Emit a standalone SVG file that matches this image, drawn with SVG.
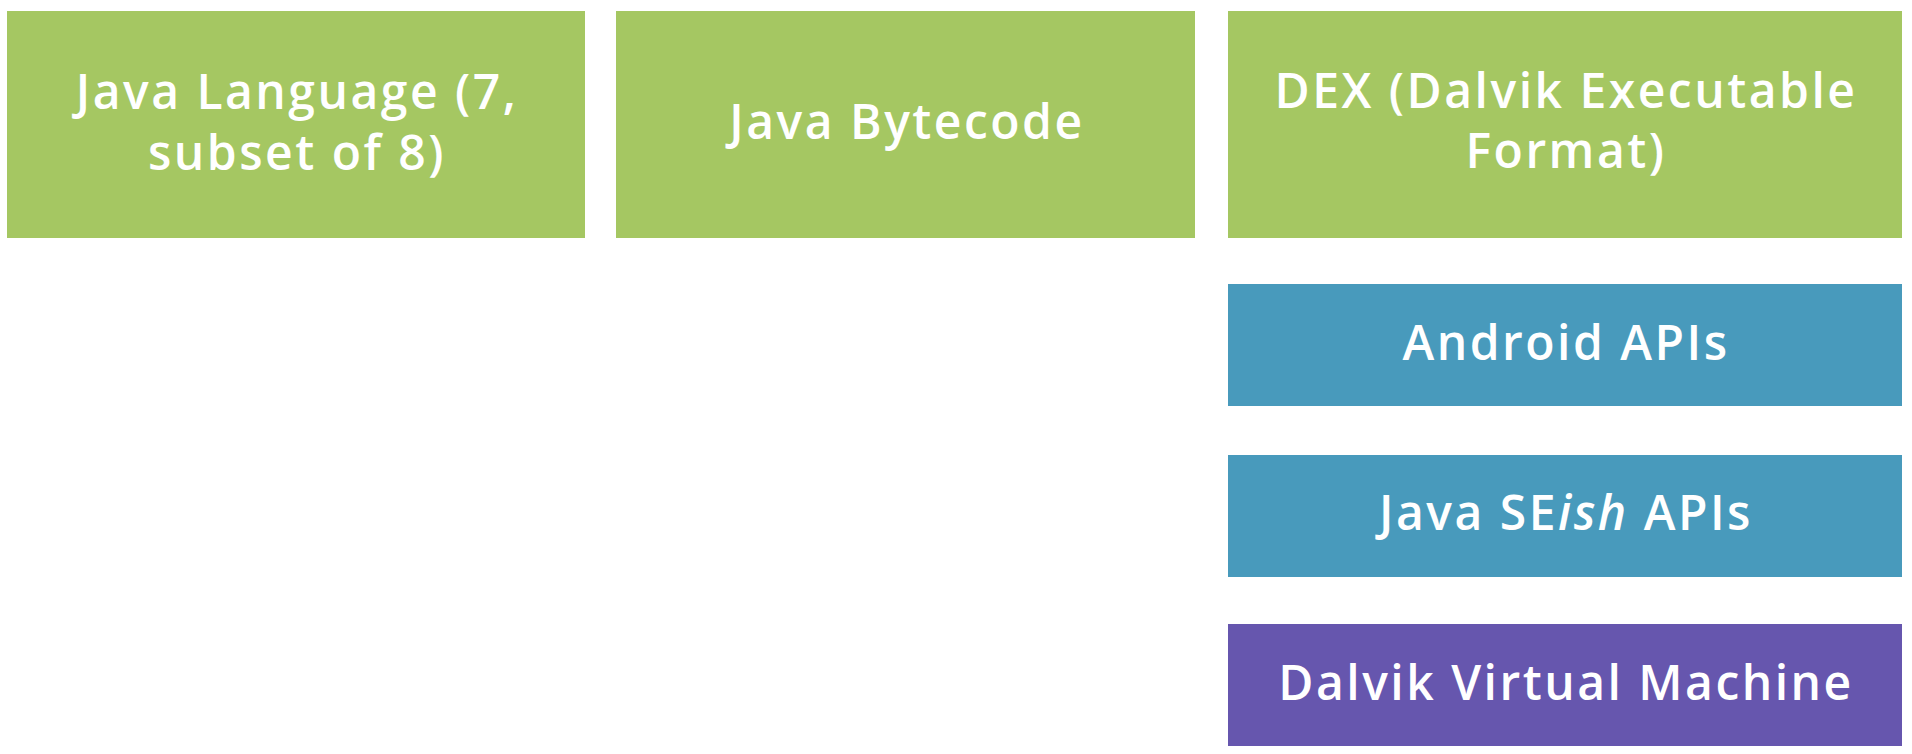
<svg xmlns="http://www.w3.org/2000/svg" width="1912" height="754" viewBox="0 0 1912 754">
<style>
.green{fill:#A5C762}
.blue{fill:#489ABC}
.purple{fill:#6656AE}
.lbl{font-family:"Open Sans","Liberation Sans",sans-serif;font-size:48px;font-weight:600;letter-spacing:2.5px;fill:#FFFFFF;text-anchor:middle}
</style>
<rect x="0" y="0" width="1912" height="754" fill="#FFFFFF"/>
<g id="java-language">
<rect class="green" x="7" y="11" width="578" height="227"/>
<text class="lbl" x="297" y="109">Java Language (7,</text>
<text class="lbl" x="297" y="170">subset of 8)</text>
</g>
<g id="java-bytecode">
<rect class="green" x="616" y="11" width="579" height="227"/>
<text class="lbl" x="907" y="139">Java Bytecode</text>
</g>
<g id="dex">
<rect class="green" x="1228" y="11" width="674" height="227"/>
<text class="lbl" x="1566" y="108">DEX (Dalvik Executable</text>
<text class="lbl" x="1566" y="168">Format)</text>
</g>
<g id="android-apis">
<rect class="blue" x="1228" y="284" width="674" height="122"/>
<text class="lbl" x="1566" y="360">Android APIs</text>
</g>
<g id="java-se-apis">
<rect class="blue" x="1228" y="455" width="674" height="122"/>
<text class="lbl" x="1566" y="530">Java SE<tspan font-style="italic">ish</tspan> APIs</text>
</g>
<g id="dalvik-vm">
<rect class="purple" x="1228" y="624" width="674" height="122"/>
<text class="lbl" x="1566" y="700">Dalvik Virtual Machine</text>
</g>
<g id="connectors"/>
</svg>
